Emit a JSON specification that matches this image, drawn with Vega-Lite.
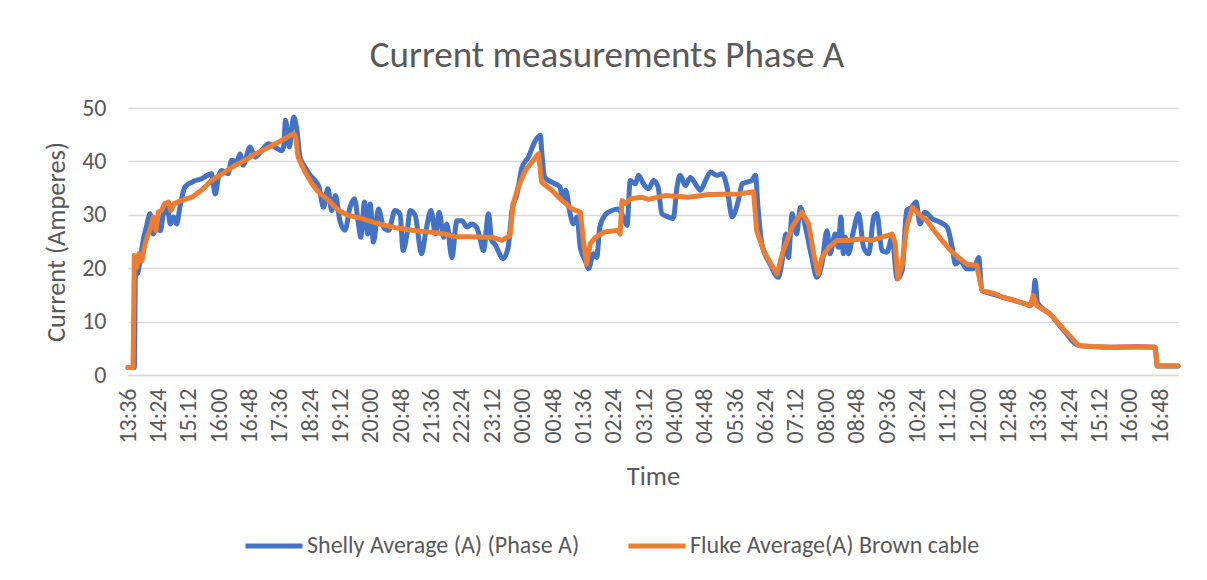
{
  "$schema": "https://vega.github.io/schema/vega-lite/v6.json",
  "width": 1050,
  "height": 267,
  "autosize": {"type": "none"},
  "padding": {"left": 128, "top": 108, "right": 29, "bottom": 205},
  "background": "white",
  "config": {
    "font": "Carlito, Lato, sans-serif",
    "view": {"stroke": null},
    "axis": {"labelColor": "#595959", "titleColor": "#595959", "titleFontWeight": "normal", "labelFont": "Carlito, Lato, sans-serif", "titleFont": "Carlito, Lato, sans-serif"},
    "legend": {"labelFont": "Carlito, Lato, sans-serif"}
  },
  "title": {"text": "Current measurements Phase A", "font": "Carlito, Lato, sans-serif", "fontSize": 37, "fontWeight": "normal", "color": "#595959", "anchor": "middle", "baseline": "alphabetic", "offset": -8, "dx": -46},
  "datasets": {
    "shelly": [
      {"minute":0,"current":1.4},{"minute":10,"current":1.4},{"minute":12,"current":22},{"minute":15,"current":19},{"minute":19,"current":21.4},{"minute":24,"current":25.2},{"minute":29,"current":27.7},{"minute":35,"current":30.2},{"minute":40,"current":26.4},{"minute":46,"current":28.9},{"minute":51,"current":27},{"minute":56,"current":30.2},{"minute":62,"current":31.4},{"minute":67,"current":28.3},{"minute":72,"current":29.6},{"minute":77,"current":28.3},{"minute":82,"current":31.4},{"minute":90,"current":35.2},{"minute":101,"current":36.1},{"minute":117,"current":36.8},{"minute":132,"current":37.7},{"minute":138,"current":33.9},{"minute":143,"current":37.1},{"minute":148,"current":38.3},{"minute":158,"current":37.7},{"minute":164,"current":40.2},{"minute":172,"current":39.9},{"minute":177,"current":41.4},{"minute":182,"current":39.3},{"minute":193,"current":42.7},{"minute":201,"current":40.8},{"minute":211,"current":42},{"minute":222,"current":43.3},{"minute":232,"current":42.7},{"minute":243,"current":42},{"minute":246,"current":42.7},{"minute":249,"current":47.7},{"minute":255,"current":42.7},{"minute":262,"current":48.3},{"minute":267,"current":46},{"minute":272,"current":40.8},{"minute":280,"current":38.9},{"minute":288,"current":37.4},{"minute":296,"current":36.4},{"minute":302,"current":35.2},{"minute":309,"current":31.4},{"minute":316,"current":34.9},{"minute":322,"current":30.8},{"minute":328,"current":33.6},{"minute":335,"current":28.9},{"minute":343,"current":27.1},{"minute":351,"current":31.4},{"minute":358,"current":33},{"minute":365,"current":27.7},{"minute":368,"current":25.8},{"minute":374,"current":32.4},{"minute":379,"current":26.4},{"minute":383,"current":32},{"minute":388,"current":24.9},{"minute":396,"current":31.1},{"minute":404,"current":27.7},{"minute":412,"current":27.1},{"minute":422,"current":30.8},{"minute":430,"current":30.2},{"minute":435,"current":23.3},{"minute":441,"current":26.4},{"minute":446,"current":30.8},{"minute":454,"current":29.9},{"minute":464,"current":22.7},{"minute":471,"current":27},{"minute":479,"current":30.8},{"minute":486,"current":26.4},{"minute":492,"current":30.5},{"minute":499,"current":25.8},{"minute":504,"current":28.3},{"minute":512,"current":22},{"minute":520,"current":28.9},{"minute":528,"current":28.9},{"minute":536,"current":27.7},{"minute":543,"current":28.3},{"minute":551,"current":27.7},{"minute":556,"current":25.8},{"minute":562,"current":23.3},{"minute":570,"current":30.2},{"minute":575,"current":25.2},{"minute":580,"current":24.5},{"minute":593,"current":21.8},{"minute":601,"current":23.9},{"minute":607,"current":30.8},{"minute":615,"current":33.9},{"minute":623,"current":38.9},{"minute":633,"current":40.8},{"minute":644,"current":43.9},{"minute":652,"current":44.9},{"minute":654,"current":42},{"minute":659,"current":37},{"minute":670,"current":36.1},{"minute":683,"current":35.2},{"minute":687,"current":32.7},{"minute":692,"current":34.6},{"minute":699,"current":30.2},{"minute":704,"current":28.3},{"minute":710,"current":29.6},{"minute":715,"current":23.9},{"minute":723,"current":21.4},{"minute":728,"current":19.9},{"minute":736,"current":22.7},{"minute":741,"current":22},{"minute":746,"current":27.7},{"minute":754,"current":29.9},{"minute":765,"current":30.8},{"minute":775,"current":31.1},{"minute":783,"current":29.6},{"minute":789,"current":28},{"minute":794,"current":36.4},{"minute":802,"current":35.8},{"minute":807,"current":37.4},{"minute":815,"current":35.8},{"minute":823,"current":34.9},{"minute":831,"current":36.4},{"minute":838,"current":35.2},{"minute":844,"current":30.2},{"minute":854,"current":29.6},{"minute":862,"current":29.3},{"minute":868,"current":35.2},{"minute":873,"current":37.4},{"minute":881,"current":35.5},{"minute":889,"current":37},{"minute":897,"current":35.8},{"minute":905,"current":34.6},{"minute":913,"current":36.4},{"minute":921,"current":38},{"minute":931,"current":37.4},{"minute":939,"current":37.7},{"minute":947,"current":35.2},{"minute":955,"current":29.6},{"minute":965,"current":32.7},{"minute":971,"current":35.8},{"minute":978,"current":36.1},{"minute":986,"current":36.4},{"minute":992,"current":37.4},{"minute":996,"current":31.4},{"minute":1002,"current":24.6},{"minute":1015,"current":20.8},{"minute":1028,"current":18.3},{"minute":1035,"current":22},{"minute":1040,"current":26.4},{"minute":1044,"current":22},{"minute":1050,"current":30.2},{"minute":1057,"current":26.4},{"minute":1063,"current":31.4},{"minute":1071,"current":27.7},{"minute":1081,"current":22},{"minute":1089,"current":18.3},{"minute":1097,"current":20.8},{"minute":1105,"current":27},{"minute":1110,"current":22.7},{"minute":1118,"current":26.4},{"minute":1123,"current":23.9},{"minute":1127,"current":29.6},{"minute":1131,"current":22.7},{"minute":1134,"current":25.8},{"minute":1139,"current":22.7},{"minute":1147,"current":27},{"minute":1155,"current":30.2},{"minute":1163,"current":23.9},{"minute":1171,"current":22.7},{"minute":1179,"current":29.6},{"minute":1184,"current":30.2},{"minute":1192,"current":23.3},{"minute":1200,"current":23},{"minute":1208,"current":25.8},{"minute":1216,"current":18},{"minute":1224,"current":19.6},{"minute":1231,"current":30.8},{"minute":1239,"current":31.4},{"minute":1246,"current":32.4},{"minute":1252,"current":28.3},{"minute":1260,"current":30.5},{"minute":1271,"current":29.3},{"minute":1284,"current":28.6},{"minute":1295,"current":27.7},{"minute":1303,"current":23.9},{"minute":1308,"current":20.8},{"minute":1316,"current":21.4},{"minute":1326,"current":19.9},{"minute":1337,"current":19.9},{"minute":1345,"current":22},{"minute":1350,"current":15.8},{"minute":1366,"current":15.2},{"minute":1382,"current":14.6},{"minute":1403,"current":13.9},{"minute":1419,"current":13.3},{"minute":1427,"current":13},{"minute":1431,"current":14},{"minute":1434,"current":17.7},{"minute":1438,"current":13.5},{"minute":1458,"current":11.4},{"minute":1479,"current":8.4},{"minute":1503,"current":5.5},{"minute":1553,"current":5.2},{"minute":1595,"current":5.3},{"minute":1624,"current":5.2},{"minute":1627,"current":1.7},{"minute":1660,"current":1.7}
    ],
    "fluke": [
      {"minute":0,"current":1.4},{"minute":8,"current":1.4},{"minute":10,"current":22.4},{"minute":14,"current":20.2},{"minute":17,"current":22.7},{"minute":22,"current":21.4},{"minute":27,"current":24.6},{"minute":32,"current":26.4},{"minute":36,"current":27.7},{"minute":40,"current":29.6},{"minute":44,"current":27},{"minute":48,"current":30.5},{"minute":53,"current":30.8},{"minute":58,"current":32.1},{"minute":64,"current":32.4},{"minute":68,"current":30.8},{"minute":73,"current":32.1},{"minute":85,"current":32.7},{"minute":101,"current":33.3},{"minute":117,"current":34.7},{"minute":132,"current":36.4},{"minute":148,"current":37.6},{"minute":164,"current":38.9},{"minute":185,"current":40.2},{"minute":201,"current":41.4},{"minute":222,"current":42.6},{"minute":238,"current":43.6},{"minute":254,"current":44.7},{"minute":262,"current":45.2},{"minute":265,"current":44.6},{"minute":269,"current":40.8},{"minute":280,"current":38},{"minute":291,"current":35.8},{"minute":301,"current":34.3},{"minute":317,"current":32.7},{"minute":333,"current":30.8},{"minute":348,"current":29.9},{"minute":370,"current":29.3},{"minute":396,"current":28.3},{"minute":422,"current":27.6},{"minute":449,"current":27.1},{"minute":475,"current":26.8},{"minute":501,"current":26.4},{"minute":517,"current":25.9},{"minute":538,"current":25.9},{"minute":565,"current":25.8},{"minute":575,"current":25.8},{"minute":591,"current":25.2},{"minute":604,"current":26.1},{"minute":609,"current":32.1},{"minute":617,"current":35.2},{"minute":628,"current":38.3},{"minute":639,"current":39.9},{"minute":649,"current":41.4},{"minute":654,"current":36.1},{"minute":670,"current":34.6},{"minute":686,"current":32.7},{"minute":702,"current":31.1},{"minute":715,"current":30.5},{"minute":720,"current":25.2},{"minute":725,"current":20.8},{"minute":731,"current":24.6},{"minute":739,"current":25.8},{"minute":754,"current":26.8},{"minute":775,"current":27.1},{"minute":778,"current":26.4},{"minute":781,"current":32.7},{"minute":787,"current":32.1},{"minute":794,"current":33},{"minute":812,"current":33.3},{"minute":823,"current":32.9},{"minute":849,"current":33.6},{"minute":886,"current":33.3},{"minute":918,"current":33.8},{"minute":965,"current":33.9},{"minute":989,"current":34.3},{"minute":994,"current":27},{"minute":1005,"current":23.3},{"minute":1015,"current":21.1},{"minute":1026,"current":18.9},{"minute":1036,"current":23.3},{"minute":1050,"current":27.7},{"minute":1065,"current":30.5},{"minute":1076,"current":28.3},{"minute":1084,"current":22.7},{"minute":1091,"current":18.9},{"minute":1097,"current":22},{"minute":1108,"current":23.9},{"minute":1121,"current":25.2},{"minute":1139,"current":25.2},{"minute":1160,"current":25.5},{"minute":1176,"current":25.2},{"minute":1192,"current":25.8},{"minute":1208,"current":26.4},{"minute":1213,"current":24.6},{"minute":1217,"current":18},{"minute":1224,"current":20.8},{"minute":1231,"current":27.7},{"minute":1240,"current":31.4},{"minute":1252,"current":29.9},{"minute":1263,"current":28.9},{"minute":1276,"current":26.8},{"minute":1289,"current":24.9},{"minute":1303,"current":23},{"minute":1313,"current":22},{"minute":1326,"current":20.8},{"minute":1342,"current":20.5},{"minute":1350,"current":15.8},{"minute":1361,"current":15.5},{"minute":1371,"current":15.2},{"minute":1382,"current":14.6},{"minute":1403,"current":13.9},{"minute":1427,"current":13},{"minute":1431,"current":14.9},{"minute":1437,"current":13},{"minute":1458,"current":11.4},{"minute":1479,"current":8.6},{"minute":1503,"current":5.5},{"minute":1553,"current":5.2},{"minute":1595,"current":5.3},{"minute":1624,"current":5.2},{"minute":1627,"current":1.7},{"minute":1660,"current":1.7}
    ]
  },
  "encoding": {
    "x": {
      "field": "minute", "type": "quantitative",
      "scale": {"domain": [0, 1660], "nice": false, "zero": false},
      "axis": {
        "title": "Time",
        "values": [0,48,96,144,192,240,288,336,384,432,480,528,576,624,672,720,768,816,864,912,960,1008,1056,1104,1152,1200,1248,1296,1344,1392,1440,1488,1536,1584,1632],
        "labelExpr": "timeFormat(datetime(2024,0,1,13,36+datum.value),'%H:%M')",
        "labelAngle": 270, "labelFontSize": 24, "labelPadding": 13,
        "labelOverlap": false, "labelFlush": false, "labelBound": false,
        "ticks": false, "tickSize": 0, "grid": false,
        "domainColor": "#d9d9d9", "domainWidth": 1.5,
        "titleFontSize": 26.5, "titleY": 88
      }
    },
    "y": {
      "field": "current", "type": "quantitative",
      "scale": {"domain": [0, 50], "nice": false},
      "axis": {
        "title": "Current (Amperes)",
        "values": [0,10,20,30,40,50],
        "domain": false, "ticks": false, "tickSize": 0,
        "labelPadding": 22, "labelFontSize": 24,
        "gridColor": "#d9d9d9", "gridWidth": 1.5,
        "titleFontSize": 26.5, "titleX": -58, "titleY": 133.5
      }
    }
  },
  "layer": [
    {
      "data": {"name": "shelly"},
      "mark": {"type": "line", "strokeWidth": 5, "strokeJoin": "round", "strokeCap": "round", "interpolate": "monotone"},
      "encoding": {
        "color": {
          "datum": "Shelly Average (A) (Phase A)", "type": "nominal",
          "scale": {"domain": ["Shelly Average (A) (Phase A)", "Fluke Average(A) Brown cable"], "range": ["#4472C4", "#ED7D31"]},
          "legend": {
            "orient": "none", "legendX": 115, "legendY": 407, "direction": "horizontal", "title": null,
            "symbolType": "stroke", "symbolSize": 3249, "symbolStrokeWidth": 5,
            "labelFontSize": 24, "labelColor": "#595959", "labelOffset": 2, "labelLimit": 0, "columnPadding": 38
          }
        }
      }
    },
    {
      "data": {"name": "fluke"},
      "mark": {"type": "line", "strokeWidth": 5, "strokeJoin": "round", "strokeCap": "round"},
      "encoding": {
        "color": {"datum": "Fluke Average(A) Brown cable", "type": "nominal"}
      }
    }
  ]
}
